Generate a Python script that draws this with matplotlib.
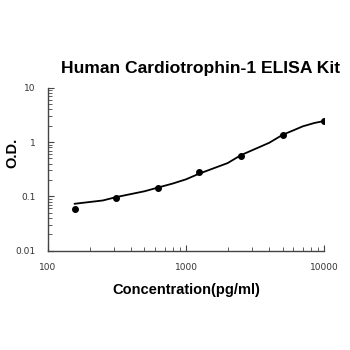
import matplotlib
matplotlib.use("Agg")
import matplotlib.pyplot as plt
from matplotlib.ticker import LogLocator, FixedLocator, FixedFormatter, NullFormatter

# standard points
conc = [156.25, 312.5, 625, 1250, 2500, 5000, 10000]
od = [0.059, 0.095, 0.141, 0.28, 0.557, 1.36, 2.45]

# fitted curve
fit_conc = [156.25, 250, 312.5, 500, 625, 800, 1000, 1250, 2000, 2500, 4000, 5000, 6000, 7000, 8500, 10000]
fit_od = [0.073, 0.084, 0.097, 0.124, 0.145, 0.172, 0.206, 0.263, 0.41, 0.575, 0.97, 1.36, 1.65, 1.95, 2.25, 2.45]

xticks = [100, 1000, 10000]
xlabels = ["100", "1000", "10000"]
yticks = [0.01, 0.1, 1, 10]
ylabels = ["0.01", "0.1", "1", "10"]

fig = plt.figure(figsize=(3.5, 3.5), dpi=100)
ax = fig.add_axes([0.137, 0.284, 0.789, 0.465])

ax.plot(fit_conc, fit_od, color="black", lw=1.3)
ax.plot(conc, od, "o", color="black", ms=4)

ax.set_xscale("log")
ax.set_yscale("log")
ax.set_xlim(100, 10000)
ax.set_ylim(0.01, 10)

ax.xaxis.set_major_locator(FixedLocator(xticks))
ax.xaxis.set_major_formatter(FixedFormatter(xlabels))
ax.yaxis.set_major_locator(FixedLocator(yticks))
ax.yaxis.set_major_formatter(FixedFormatter(ylabels))
ax.xaxis.set_minor_locator(LogLocator(base=10, subs=range(2, 10)))
ax.yaxis.set_minor_locator(LogLocator(base=10, subs=range(2, 10)))
ax.xaxis.set_minor_formatter(NullFormatter())
ax.yaxis.set_minor_formatter(NullFormatter())

for s in ["top", "right"]:
    ax.spines[s].set_visible(False)
for s in ["left", "bottom"]:
    ax.spines[s].set_color("#444444")
    ax.spines[s].set_linewidth(1.0)

ax.tick_params(which="both", direction="in", colors="#444444", labelcolor="#333333", labelsize=6.5)
ax.tick_params(which="major", length=4)
ax.tick_params(which="minor", length=3)
ax.tick_params(axis="x", pad=9)
ax.tick_params(axis="y", pad=9)

fig.text(0.574, 0.805, "Human Cardiotrophin-1 ELISA Kit", ha="center", va="center",
         fontsize=12.6, fontweight="bold", family="Liberation Sans")
fig.text(0.532, 0.171, "Concentration(pg/ml)", ha="center", va="center",
         fontsize=10.5, fontweight="bold", family="Liberation Sans")
fig.text(0.034, 0.563, "O.D.", ha="center", va="center", rotation=90,
         fontsize=10.5, fontweight="bold", family="Liberation Sans")

fig.savefig("out.png", dpi=100)
